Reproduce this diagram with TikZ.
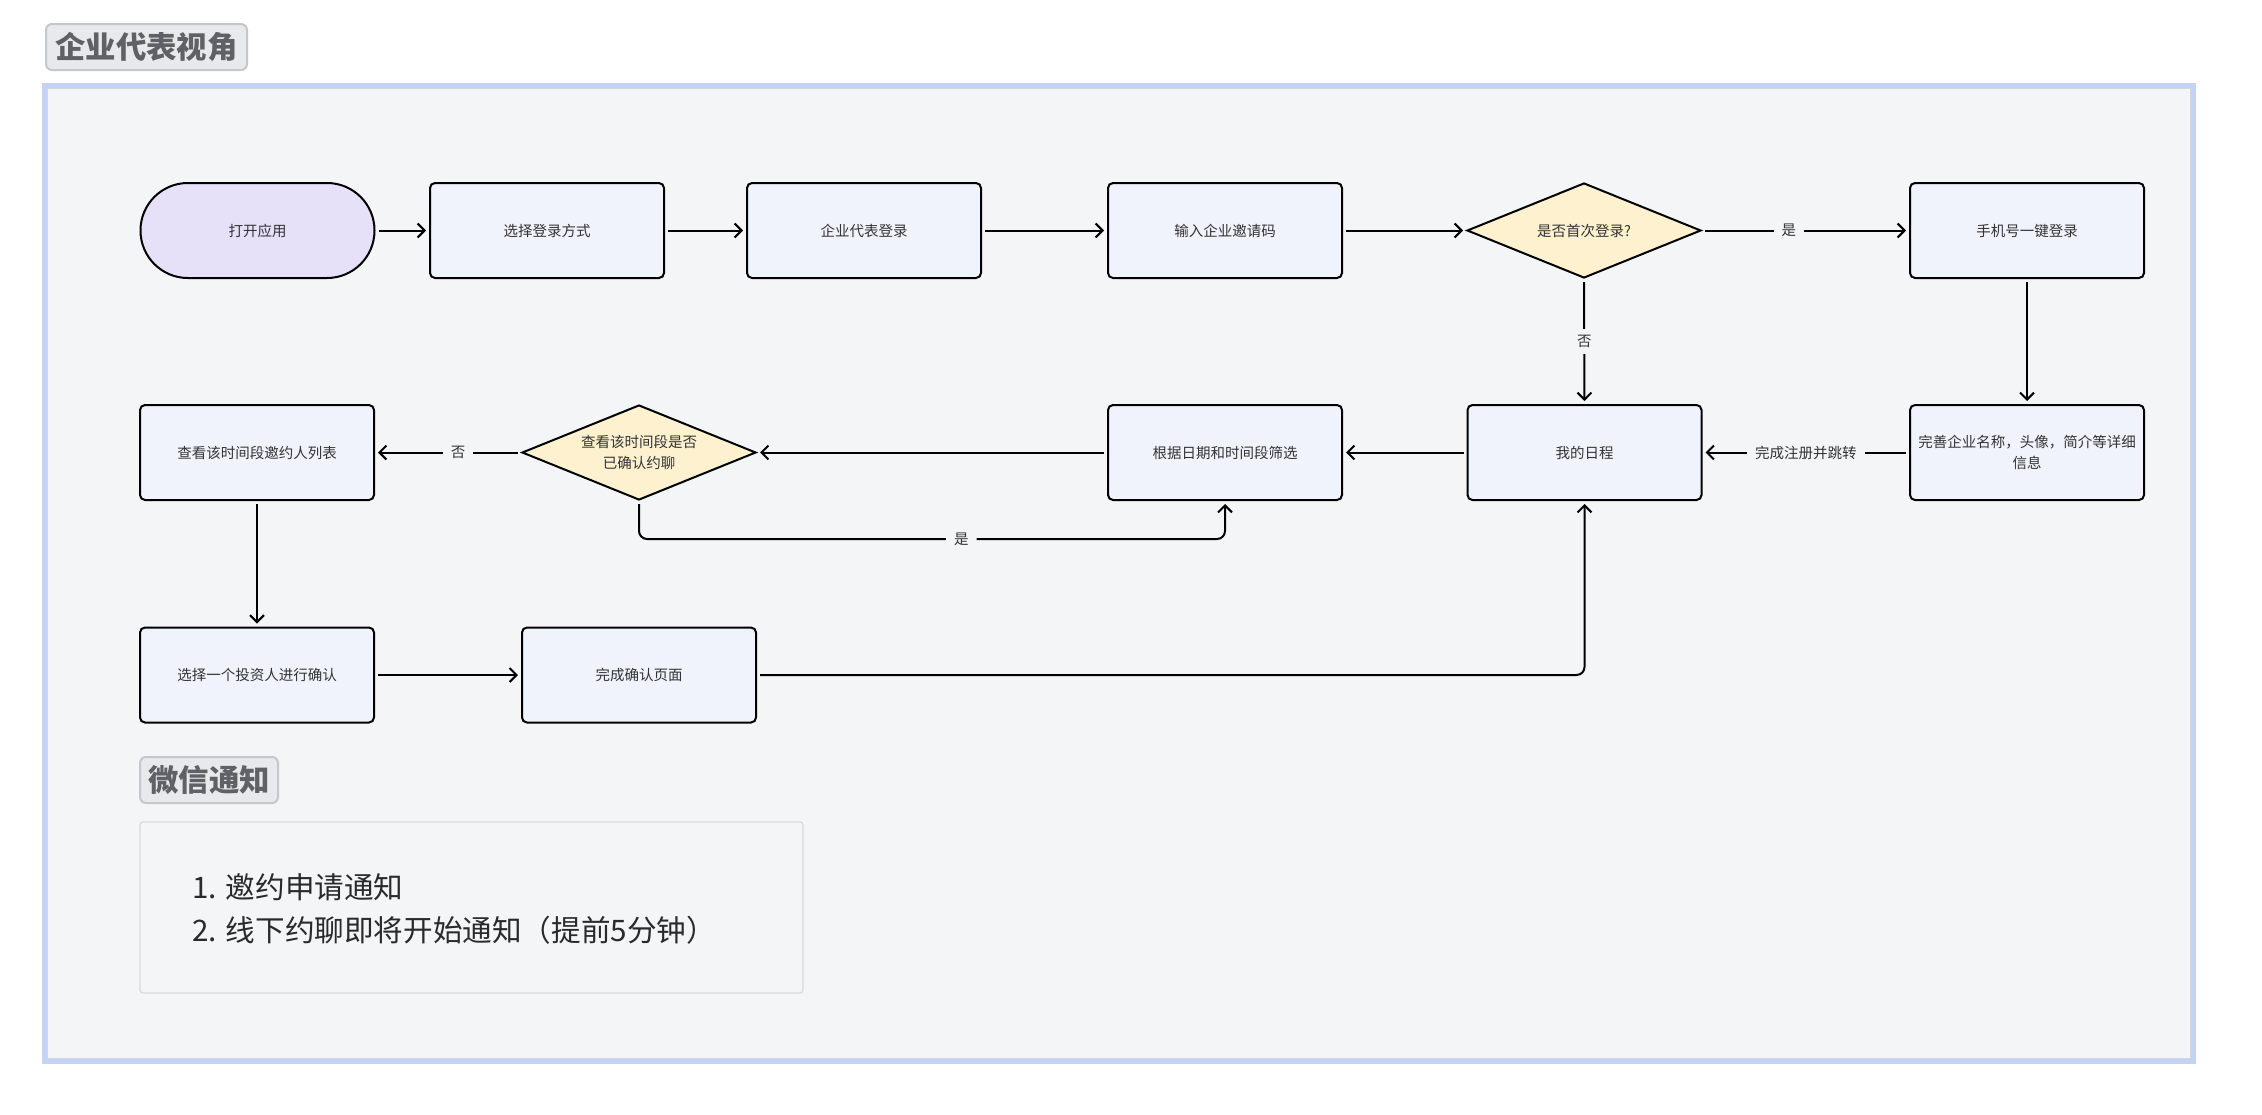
\documentclass[tikz,border=0pt]{standalone}
\usepackage{fontspec}
\setmainfont{Noto Sans CJK SC}
\usetikzlibrary{shapes.geometric,arrows.meta}
\definecolor{bgc}{HTML}{F4F5F7}
\definecolor{frameblue}{HTML}{C3D2F7}
\definecolor{framegray}{HTML}{D4D6DA}
\definecolor{boxfill}{HTML}{F0F3FC}
\definecolor{pillfill}{HTML}{E6E1F9}
\definecolor{diafill}{HTML}{FDF1D0}
\definecolor{txt}{HTML}{333333}
\definecolor{notetxt}{HTML}{2A2A2A}
\definecolor{titletxt}{HTML}{5E6166}
\definecolor{titlefill}{HTML}{E8E9EC}
\definecolor{titledraw}{HTML}{C5C7CB}
\definecolor{notedraw}{HTML}{D6D8DB}
\begin{document}
\begin{tikzpicture}[x=0.5pt,y=-0.5pt,
  every node/.style={font=\fontsize{7.25pt}{10.5pt}\selectfont, text=txt},
  proc/.style={draw=black, line width=1pt, fill=boxfill, rounded corners=2.5pt,
    minimum width=117pt, minimum height=47.5pt, inner sep=0pt, align=center},
  pill/.style={proc, fill=pillfill, rounded corners=23.7pt},
  dia/.style={diamond, aspect=2.46, draw=black, line width=1pt, fill=diafill,
    minimum width=117pt, minimum height=47.5pt, inner sep=0pt, align=center},
  arr/.style={line width=1pt, -{Straight Barb[length=3.5pt,width=7pt]},
    shorten >=1.5pt, shorten <=1.5pt},
  lbl/.style={fill=bgc, inner xsep=4pt, inner ysep=3pt},
  titlebox/.style={draw=titledraw, line width=1pt, fill=titlefill, rounded corners=3pt,
    minimum height=23pt, inner sep=0pt, text=titletxt,
    font=\fontsize{15.2pt}{18pt}\selectfont\bfseries},
  notebox/.style={draw=notedraw, line width=0.6pt, fill=bgc, rounded corners=1.5pt,
    minimum width=331.5pt, minimum height=85.5pt, inner sep=0pt}
]
\useasboundingbox (0,0) rectangle (2262,1114);
\fill[white] (0,0) rectangle (2262,1114);
% frame
\draw[line width=2.5pt, draw=frameblue, fill=bgc] (44,85.5) rectangle (2193.5,1061);
\draw[line width=0.5pt, draw=framegray] (47,88.5) rectangle (2190.5,1058.5);
% titles
\node[titlebox, minimum width=100.5pt] (title) at (146.5,47) {企业代表视角};
\node[titlebox, minimum width=69pt] (wx) at (209,780) {微信通知};
% nodes
\node[pill] (start) at (257.5,230.5) {打开应用};
\node[proc] (choose) at (547,230.5) {选择登录方式};
\node[proc] (rep) at (864,230.5) {企业代表登录};
\node[proc] (code) at (1225,230.5) {输入企业邀请码};
\node[dia] (first) at (1584,230.5) {是否首次登录?};
\node[proc] (phone) at (2027,230.5) {手机号一键登录};
\node[proc] (info) at (2027,452.5) {完善企业名称，头像，简介等详细\\信息};
\node[proc] (sched) at (1584.5,452.5) {我的日程};
\node[proc] (filter) at (1225,452.5) {根据日期和时间段筛选};
\node[dia] (conf) at (639,452.5) {查看该时间段是否\\已确认约聊};
\node[proc] (list) at (257,452.5) {查看该时间段邀约人列表};
\node[proc] (pick) at (257,675) {选择一个投资人进行确认};
\node[proc] (done) at (639,675) {完成确认页面};
\coordinate (loopy) at (0,539);
% notification
\node[notebox] (note) at (471.5,907.5) {};
\node[anchor=west, inner sep=0pt, align=left, text=notetxt,
  font=\fontsize{14.8pt}{21.5pt}\selectfont] (notetext) at (192,908.5)
  {1. 邀约申请通知\\2. 线下约聊即将开始通知（提前5分钟）};
% edges
\draw[arr] (start.east) -- (choose.west);
\draw[arr] (choose.east) -- (rep.west);
\draw[arr] (rep.east) -- (code.west);
\draw[arr] (code.east) -- (first.west);
\draw[arr] (first.east) -- node[lbl, pos=0.42] {是} (phone.west);
\draw[arr] (first.south) -- node[lbl] {否} (sched.north);
\draw[arr] (phone.south) -- (info.north);
\draw[arr] (info.west) -- node[lbl] {完成注册并跳转} (sched.east);
\draw[arr] (sched.west) -- (filter.east);
\draw[arr] (filter.west) -- (conf.east);
\draw[arr] (conf.west) -- node[lbl, pos=0.43] {否} (list.east);
\draw[arr, rounded corners=4pt] (conf.south) -- (conf.south |- loopy)
  -- node[lbl, pos=0.55] {是} (filter.south |- loopy) -- (filter.south);
\draw[arr] (list.south) -- (pick.north);
\draw[arr] (pick.east) -- (done.west);
\draw[arr, rounded corners=4pt] (done.east) -- (done.east -| sched.south) -- (sched.south);
\end{tikzpicture}
\end{document}
